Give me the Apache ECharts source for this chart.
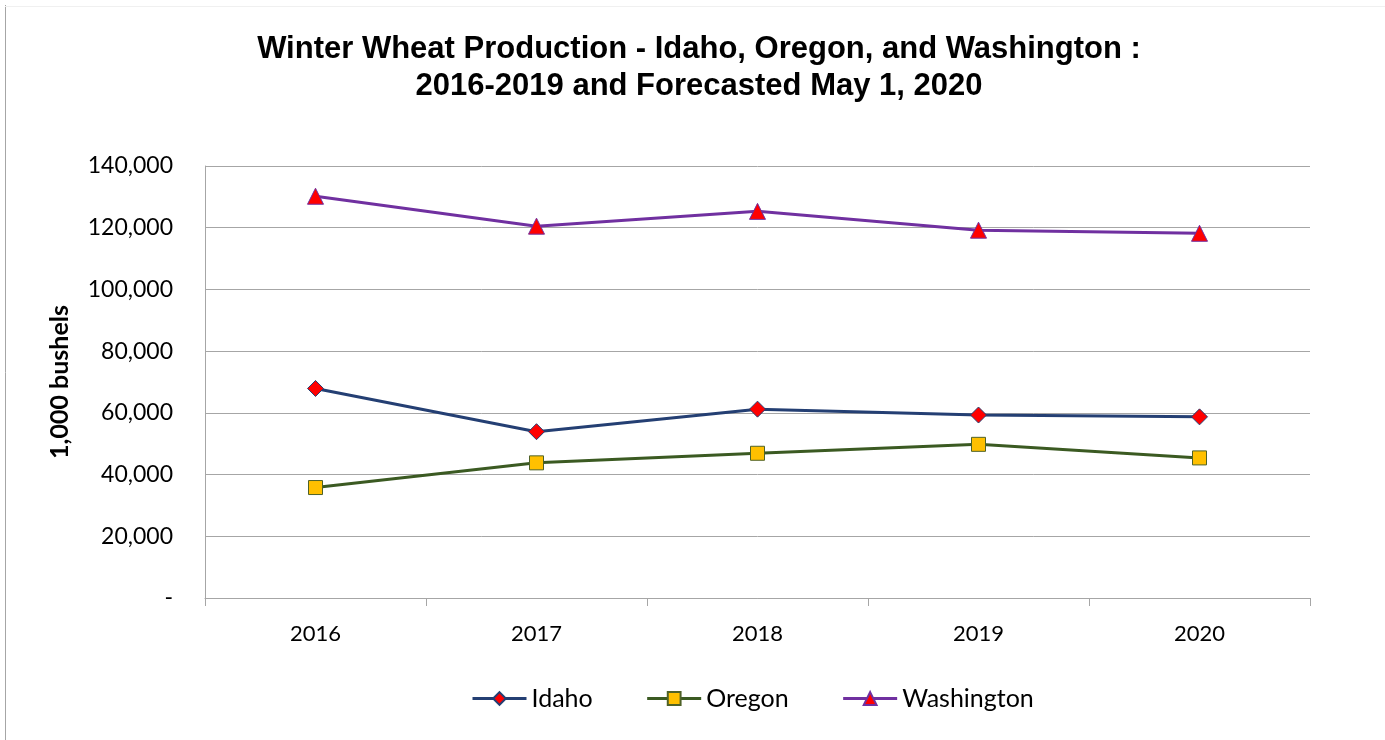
<!DOCTYPE html>
<html>
<head>
<meta charset="utf-8">
<script src="https://cdn.jsdelivr.net/npm/echarts@6/dist/echarts.min.js"></script>
<style>
html,body{margin:0;padding:0;background:#fff;}
#c{width:1385px;height:740px;}
</style>
</head>
<body>
<div id="c"></div>
<script>
const years = ['2016', '2017', '2018', '2019', '2020'];
const idaho = [67900, 53900, 61200, 59300, 58700];
const oregon = [35800, 43800, 46900, 49800, 45400];
const washington = [130200, 120500, 125300, 119200, 118200];
const yTicks = { min: 0, max: 140000, interval: 20000 };

const chart = echarts.init(document.getElementById('c'));
const labelFont = 'Lato, "Open Sans", sans-serif';

function lineSeries(name, data, lineColor, symbol, symbolSize, fill, border) {
  return {
    name: name,
    type: 'line',
    data: data,
    symbol: symbol,
    symbolSize: symbolSize,
    lineStyle: { color: lineColor, width: 3 },
    itemStyle: { color: fill, borderColor: border, borderWidth: 1 },
    emphasis: { disabled: true },
    animation: false
  };
}

chart.setOption({
  backgroundColor: '#fff',
  animation: false,
  graphic: [
    { type: 'line', shape: { x1: 5.5, y1: 5, x2: 5.5, y2: 740 }, style: { stroke: '#a6a6a6', lineWidth: 1 } },
    { type: 'line', shape: { x1: 5, y1: 6.5, x2: 1385, y2: 6.5 }, style: { stroke: '#f0f0f0', lineWidth: 1 } }
  ],
  title: {
    text: 'Winter Wheat Production - Idaho, Oregon, and Washington :\n2016-2019 and Forecasted May 1, 2020',
    left: 694,
    textAlign: 'center',
    top: 26,
    textStyle: {
      fontFamily: '"Liberation Sans", Arial, sans-serif',
      fontWeight: 'bold',
      fontSize: 31,
      lineHeight: 37,
      color: '#000'
    }
  },
  legend: {
    top: 686,
    left: 471,
    padding: 0,
    itemWidth: 54,
    itemHeight: 16,
    itemGap: 53,
    lineStyle: { width: 3 },
    textStyle: { fontFamily: labelFont, fontSize: 25, color: '#000' },
    data: ['Idaho', 'Oregon', 'Washington']
  },
  grid: { left: 205, right: 75, top: 166, bottom: 142 },
  xAxis: {
    type: 'category',
    data: years,
    boundaryGap: true,
    axisLine: { lineStyle: { color: '#a6a6a6', width: 1 } },
    axisTick: { show: true, length: 8, lineStyle: { color: '#a6a6a6' } },
    axisLabel: { fontFamily: labelFont, fontSize: 22, color: '#000', margin: 25 }
  },
  yAxis: {
    type: 'value',
    min: yTicks.min,
    max: yTicks.max,
    interval: yTicks.interval,
    name: '1,000 bushels',
    nameLocation: 'middle',
    nameGap: 133,
    nameRotate: 90,
    nameTextStyle: { fontFamily: labelFont, fontWeight: 'bold', fontSize: 25, color: '#000' },
    axisLine: { show: true, lineStyle: { color: '#a6a6a6', width: 1 } },
    axisTick: { show: false },
    splitLine: { lineStyle: { color: '#a6a6a6', width: 1 } },
    axisLabel: {
      fontFamily: labelFont, fontSize: 23, color: '#000', margin: 32,
      formatter: v => v === 0 ? '-' : v.toLocaleString('en-US')
    }
  },
  series: [
    lineSeries('Idaho', idaho, '#243f73', 'diamond', 16, '#ff0000', '#243f73'),
    lineSeries('Oregon', oregon, '#3b5a22', 'rect', 14, '#ffc000', '#4f6228'),
    lineSeries('Washington', washington, '#7030a0', 'triangle', 16, '#ff0000', '#7030a0')
  ]
});
</script>
</body>
</html>
